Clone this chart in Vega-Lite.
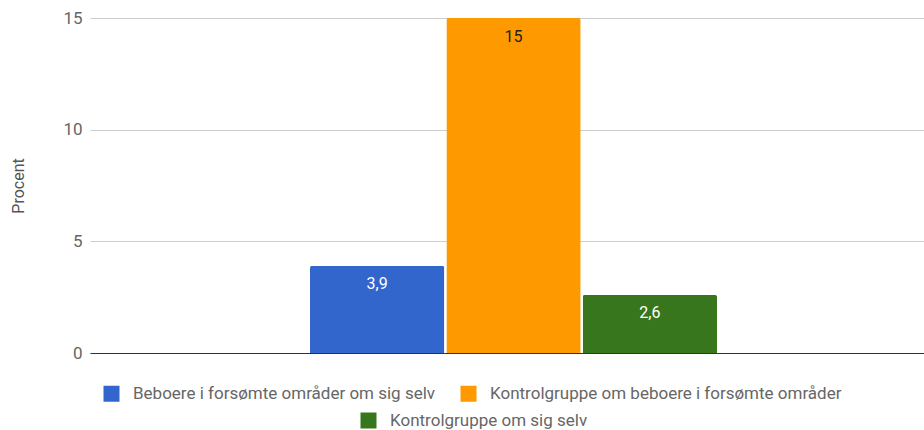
{
  "$schema": "https://vega.github.io/schema/vega-lite/v6.json",
  "width": 847,
  "height": 335,
  "autosize": {"type": "none"},
  "padding": {"left": 90, "top": 18, "right": 0, "bottom": 77},
  "config": {
    "view": {"stroke": null},
    "font": "Roboto",
    "locale": {"number": {"decimal": ",", "thousands": ".", "grouping": [3], "currency": ["", " kr."]}}
  },
  "data": {
    "values": [
      {"gruppe": "alle", "serie": "Beboere i forsømte områder om sig selv", "procent": 3.9},
      {"gruppe": "alle", "serie": "Kontrolgruppe om beboere i forsømte områder", "procent": 15},
      {"gruppe": "alle", "serie": "Kontrolgruppe om sig selv", "procent": 2.6}
    ]
  },
  "encoding": {
    "x": {
      "field": "gruppe",
      "type": "nominal",
      "scale": {"paddingInner": 0, "paddingOuter": 0.5405},
      "axis": {"labels": false, "ticks": false, "title": null, "domainColor": "#333333", "domainWidth": 1, "grid": false}
    },
    "xOffset": {
      "field": "serie",
      "type": "nominal",
      "sort": null,
      "scale": {
        "domain": ["Beboere i forsømte områder om sig selv", "Kontrolgruppe om beboere i forsømte områder", "Kontrolgruppe om sig selv"],
        "paddingInner": 0.015,
        "paddingOuter": 0
      }
    },
    "y": {
      "field": "procent",
      "type": "quantitative",
      "scale": {"domain": [0, 15], "nice": false},
      "axis": {
        "values": [0, 5, 10, 15],
        "title": "Procent",
        "domain": false,
        "ticks": false,
        "tickSize": 0,
        "labelPadding": 8,
        "labelFontSize": 17,
        "labelColor": "#666666",
        "titleFontSize": 16,
        "titleColor": "#555555",
        "titleFontWeight": "normal",
        "titlePadding": 36,
        "gridColor": "#cccccc",
        "format": "~g"
      }
    }
  },
  "layer": [
    {
      "transform": [{"filter": "datum.serie !== 'Kontrolgruppe om sig selv'"}],
      "mark": {"type": "bar", "cornerRadiusTopLeft": 2, "cornerRadiusTopRight": 2},
      "encoding": {
        "color": {
          "field": "serie",
          "type": "nominal",
          "scale": {"domain": ["Beboere i forsømte områder om sig selv", "Kontrolgruppe om beboere i forsømte områder"], "range": ["#3366cc", "#ff9900"]},
          "legend": {
            "orient": "none", "legendX": 13, "legendY": 367, "direction": "horizontal", "title": null,
            "symbolType": "square", "symbolSize": 256, "symbolStrokeWidth": 0,
            "labelFontSize": 17, "labelColor": "#666666", "labelLimit": 500, "columnPadding": 24, "labelOffset": 13
          }
        }
      }
    },
    {
      "transform": [{"filter": "datum.serie === 'Kontrolgruppe om sig selv'"}],
      "mark": {"type": "bar", "cornerRadiusTopLeft": 2, "cornerRadiusTopRight": 2},
      "encoding": {
        "color": {
          "field": "serie",
          "type": "nominal",
          "scale": {"domain": ["Kontrolgruppe om sig selv"], "range": ["#38761d"]},
          "legend": {
            "orient": "none", "legendX": 270, "legendY": 394, "direction": "horizontal", "title": null,
            "symbolType": "square", "symbolSize": 256, "symbolStrokeWidth": 0,
            "labelFontSize": 17, "labelColor": "#666666", "labelLimit": 500, "labelOffset": 13
          }
        }
      }
    },
    {
      "mark": {"type": "text", "baseline": "middle", "dy": 18.5, "fontSize": 16},
      "encoding": {
        "text": {"field": "procent", "type": "quantitative", "format": "~g"},
        "color": {
          "condition": {"test": "datum.serie === 'Kontrolgruppe om beboere i forsømte områder'", "value": "#222222"},
          "value": "#ffffff"
        }
      }
    }
  ],
  "resolve": {"scale": {"color": "independent"}}
}
